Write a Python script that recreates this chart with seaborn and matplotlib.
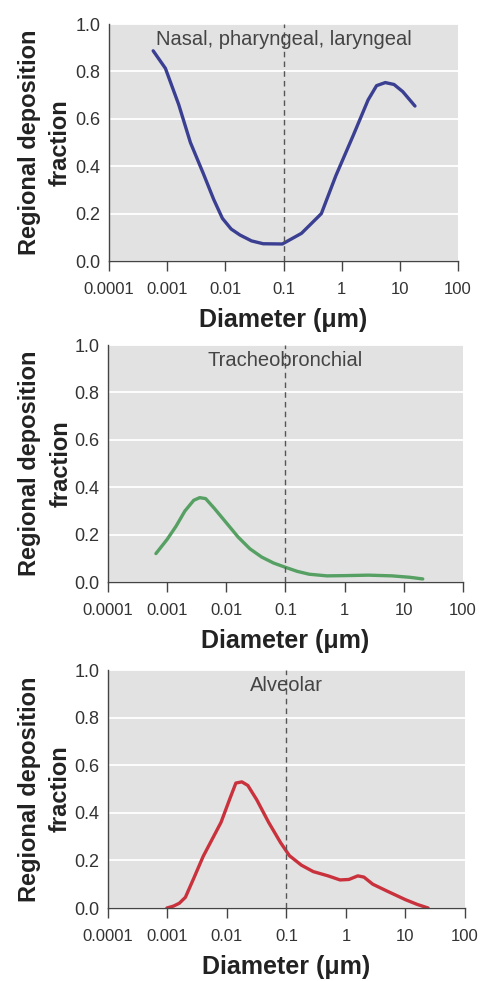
import numpy as np
import pandas as pd
import matplotlib
matplotlib.use("Agg")
import matplotlib.pyplot as plt
import seaborn as sns

# Deposition fractions (diameter in um)
nasal_d = [0.000575, 0.000933, 0.00158, 0.00251, 0.00417, 0.00631, 0.00891, 0.0126, 0.0178, 0.0282,
           0.0447, 0.0955, 0.204, 0.447, 0.794, 1.58, 2.85, 3.98, 5.62, 7.94, 11.2, 18.2]
nasal_f = [0.887, 0.813, 0.66, 0.50, 0.37, 0.26, 0.18, 0.135, 0.11, 0.085,
           0.073, 0.072, 0.117, 0.20, 0.36, 0.53, 0.68, 0.74, 0.753, 0.745, 0.715, 0.654]

tracheo_d = [0.000646, 0.001, 0.00141, 0.002, 0.00282, 0.00355, 0.00447, 0.00631, 0.01, 0.0158, 0.0251,
             0.0398, 0.0631, 0.1, 0.158, 0.251, 0.501, 1.0, 2.51, 6.31, 12.6, 20.9]
tracheo_f = [0.12, 0.18, 0.235, 0.30, 0.345, 0.356, 0.352, 0.31, 0.25, 0.19, 0.14,
             0.105, 0.08, 0.062, 0.045, 0.033, 0.026, 0.027, 0.029, 0.026, 0.020, 0.013]

alveolar_d = [0.000977, 0.00126, 0.00158, 0.002, 0.00282, 0.00398, 0.00794, 0.0112, 0.0141, 0.0178,
              0.0224, 0.0316, 0.0501, 0.0794, 0.112, 0.178, 0.282, 0.501, 0.794, 1.12, 1.58, 2.0,
              2.82, 5.01, 10.0, 15.8, 24.0]
alveolar_f = [0.0, 0.008, 0.02, 0.045, 0.13, 0.217, 0.36, 0.46, 0.525, 0.53,
              0.515, 0.455, 0.36, 0.275, 0.22, 0.18, 0.153, 0.135, 0.118, 0.12, 0.135, 0.13,
              0.10, 0.07, 0.035, 0.015, 0.0]

panels = [
    ("Nasal, pharyngeal, laryngeal", nasal_d, nasal_f, "#3b3f92"),
    ("Tracheobronchial", tracheo_d, tracheo_f, "#55a062"),
    ("Alveolar", alveolar_d, alveolar_f, "#c9323c"),
]
x_ticks = [0.0001, 0.001, 0.01, 0.1, 1, 10, 100]
x_tick_labels = ["0.0001", "0.001", "0.01", "0.1", "1", "10", "100"]
y_ticks = [0.0, 0.2, 0.4, 0.6, 0.8, 1.0]

sns.set_theme(style="darkgrid")
plt.rcParams["font.family"] = ["Liberation Sans", "DejaVu Sans"]
plt.rcParams["axes.facecolor"] = "#e2e2e2"

fig = plt.figure(figsize=(4.81, 9.81), dpi=100)
fig.patch.set_facecolor("white")

# axes boxes [left, bottom, width, height] in figure fractions
boxes = [
    [0.2266, 0.7339, 0.7256, 0.2416],
    [0.2245, 0.4067, 0.7380, 0.2416],
    [0.2245, 0.0744, 0.7422, 0.2426],
]
ylabel_x = [-0.106, -0.101, -0.101]

for (title, d, f, color), box, lx in zip(panels, boxes, ylabel_x):
    ax = fig.add_axes(box)
    df = pd.DataFrame({"Diameter": d, "Fraction": f})
    sns.lineplot(data=df, x="Diameter", y="Fraction", color=color, linewidth=2.4, ax=ax)
    for ln in ax.get_lines():
        ln.set_solid_joinstyle("round")
        ln.set_solid_capstyle("round")
    ax.set_xscale("log")
    ax.set_xlim(0.0001, 100)
    ax.set_ylim(0, 1.0)
    ax.axvline(0.1, color="#555555", linestyle=(0, (4, 3)), linewidth=1.0)
    ax.grid(axis="x", visible=False)
    ax.grid(axis="y", color="white", linewidth=1.3)
    ax.set_xticks(x_ticks)
    ax.set_xticklabels(x_tick_labels)
    ax.minorticks_off()
    ax.set_yticks(y_ticks)
    ax.set_yticklabels([f"{v:.1f}" for v in y_ticks])
    ax.tick_params(axis="x", which="major", bottom=True, length=7, width=1.0, color="#444444",
                   labelsize=12, labelcolor="#333333", pad=8)
    ax.tick_params(axis="y", left=False, length=0, labelsize=13, labelcolor="#333333", pad=6)
    for side in ["top", "right"]:
        ax.spines[side].set_visible(False)
    for side in ["left", "bottom"]:
        ax.spines[side].set_visible(True)
        ax.spines[side].set_color("#444444")
        ax.spines[side].set_linewidth(1.0)
    ax.set_xlabel("Diameter (\u03bcm)", fontsize=18, fontweight="bold", color="#222222", labelpad=8)
    ax.set_ylabel("Regional deposition\nfraction", fontsize=17, fontweight="bold", color="#222222",
                  linespacing=1.45)
    ax.yaxis.set_label_coords(lx, 0.5)
    ax.text(0.1, 0.935, title, fontsize=14.5, color="#444444", ha="center", va="center")

fig.savefig("out.png", dpi=100, facecolor="white")
